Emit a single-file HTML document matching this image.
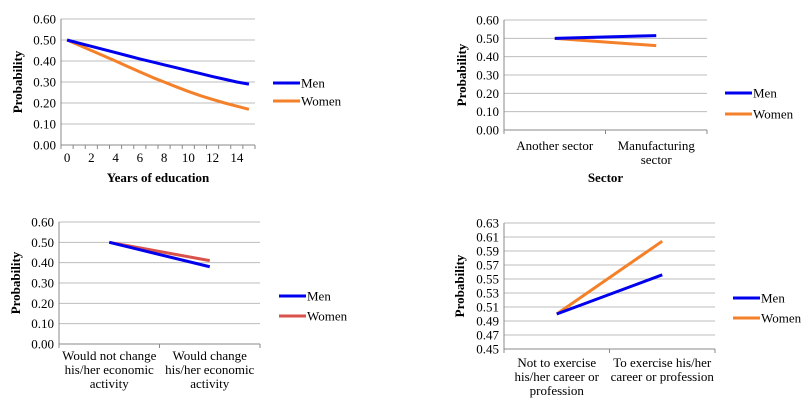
<!DOCTYPE html>
<html><head><meta charset="utf-8"><style>
html,body{margin:0;padding:0;background:#fff;font-family:"Liberation Serif","DejaVu Serif",serif;}
svg{display:block;}
svg text{font-family:"Liberation Serif","DejaVu Serif",serif;}
</style></head><body>
<svg id="s" width="811" height="414" xmlns="http://www.w3.org/2000/svg"></svg>
<script>
// Chart 1 data
const eduYears=[0,1,2,3,4,5,6,7,8,9,10,11,12,13,14,15];
const eduMen=[0.50,0.485,0.47,0.455,0.44,0.425,0.41,0.396,0.382,0.368,0.354,0.34,0.326,0.313,0.30,0.29];
const eduWomen=[0.50,0.475,0.45,0.425,0.40,0.374,0.348,0.323,0.30,0.277,0.255,0.235,0.217,0.20,0.185,0.17];
const eduTicks=["0","","2","","4","","6","","8","","10","","12","","14",""];
// Chart 2
const sectorCats=[["Another sector"],["Manufacturing","sector"]];
const sectorMen=[0.50,0.515];
const sectorWomen=[0.50,0.46];
// Chart 3
const activityCats=[["Would not change","his/her economic","activity"],["Would change","his/her economic","activity"]];
const activityMen=[0.50,0.38];
const activityWomen=[0.50,0.41];
// Chart 4
const careerCats=[["Not to exercise","his/her career or","profession"],["To exercise his/her","career or profession"]];
const careerMen=[0.50,0.556];
const careerWomen=[0.50,0.604];
const yTicks1=[0,0.1,0.2,0.3,0.4,0.5,0.6];
const yTicks4=[0.45,0.47,0.49,0.51,0.53,0.55,0.57,0.59,0.61,0.63];

const svg=document.getElementById('s');
const NS="http://www.w3.org/2000/svg";
function el(t,a,txt){const e=document.createElementNS(NS,t);for(const k in a)e.setAttribute(k,a[k]);if(t==='text')e.style.fontFamily='"Liberation Serif", "DejaVu Serif", serif';if(txt!==undefined)e.textContent=txt;svg.appendChild(e);return e;}

function chart(o){
  const {L,R,T,B,yMin,yMax,yt,dec,n,cats,ticks,men,women,wColor,legX,legY1,legY2,yTitleX,xTitle,xTitleY,catY,id}=o;
  const ys=v=>B-(v-yMin)/(yMax-yMin)*(B-T);
  const w=(R-L)/n;
  const xs=i=>L+w*(i+0.5);
  yt.forEach(v=>{
    const y=ys(v);
    const g=el('line',{x1:L,x2:R,y1:y,y2:y,stroke:v===yMin?'#888':'#bdbdbd','stroke-width':1});
    
    
    const t=el('text',{x:L-5,y:y+4.5,'text-anchor':'end','font-size':13},v.toFixed(dec));
    
    
  });
  const ax=el('line',{x1:L,x2:L,y1:T,y2:B,stroke:'#888'});
  
  
  for(let i=0;i<=n;i++){
    const x=L+w*i;
    el('line',{x1:x,x2:x,y1:B,y2:B+4,stroke:'#888'});
  }
  if(ticks){ticks.forEach((t,i)=>{if(t!==""){const e=el('text',{x:xs(i),y:B+17,'text-anchor':'middle','font-size':13},t);
    }});}
  if(cats){cats.forEach((lines,i)=>{lines.forEach((s,j)=>{const e=el('text',{x:xs(i),y:catY+j*14,'text-anchor':'middle','font-size':13},s);
    });});}
  const pl=(arr,c,nm)=>{const p=el('polyline',{points:arr.map((v,i)=>xs(i)+','+ys(v)).join(' '),fill:'none',stroke:c,'stroke-width':3,'stroke-linejoin':'round'});
    };
  pl(women,wColor,'women');pl(men,'#0000ee','men');
  [[legY1,'#0000ee','Men'],[legY2,wColor,'Women']].forEach(([y,c,s])=>{
    const l=el('line',{x1:legX,x2:legX+27,y1:y,y2:y,stroke:c,'stroke-width':3});
    
    const t=el('text',{x:legX+28,y:y+4.5,'font-size':13},s);
    
  });
  const cy=(T+B)/2;
  const yt2=el('text',{x:yTitleX,y:cy,'text-anchor':'middle','font-size':13,'font-weight':'bold',transform:`rotate(-90 ${yTitleX} ${cy})`},'Probability');
  
  if(xTitle){const e=el('text',{x:(L+R)/2,y:xTitleY,'text-anchor':'middle','font-size':13,'font-weight':'bold'},xTitle);
    }
}
chart({id:'education',L:61,R:255,T:19,B:145,yMin:0,yMax:0.6,yt:yTicks1,dec:2,n:eduYears.length,ticks:eduTicks,men:eduMen,women:eduWomen,wColor:'#f5802a',legX:273,legY1:83,legY2:101,yTitleX:22,xTitle:'Years of education',xTitleY:182});
chart({id:'sector',L:504,R:707,T:20,B:130,yMin:0,yMax:0.6,yt:yTicks1,dec:2,n:2,cats:sectorCats,men:sectorMen,women:sectorWomen,wColor:'#f5802a',legX:725,legY1:93,legY2:114,yTitleX:466,xTitle:'Sector',xTitleY:182,catY:150});
chart({id:'activity',L:59,R:260,T:222,B:344,yMin:0,yMax:0.6,yt:yTicks1,dec:2,n:2,cats:activityCats,men:activityMen,women:activityWomen,wColor:'#d9524b',legX:279,legY1:296,legY2:316,yTitleX:20,catY:360});
chart({id:'career',L:504,R:715,T:223,B:349,yMin:0.45,yMax:0.63,yt:yTicks4,dec:2,n:2,cats:careerCats,men:careerMen,women:careerWomen,wColor:'#f5802a',legX:733,legY1:298,legY2:318,yTitleX:464,catY:367});
</script>
</body></html>
